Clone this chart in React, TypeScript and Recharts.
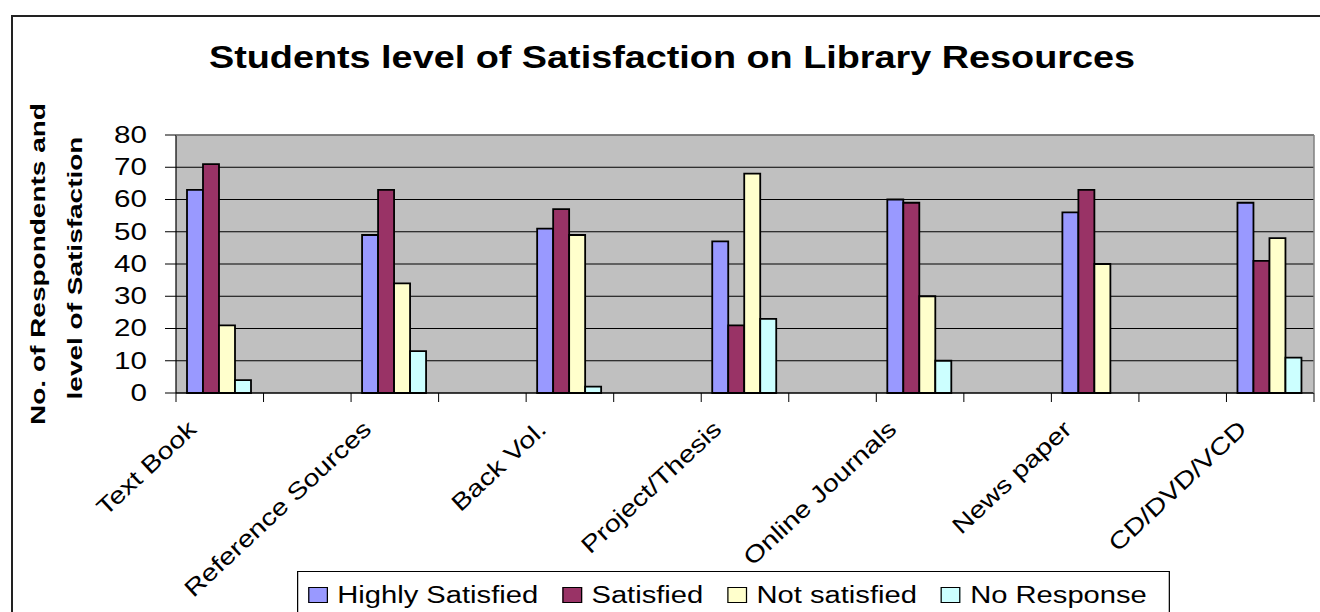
import React from 'react';
import { BarChart, Bar, XAxis, YAxis, CartesianGrid } from 'recharts';

const categories = [
  'Text Book',
  'Reference Sources',
  'Back Vol.',
  'Project/Thesis',
  'Online Journals',
  'News paper',
  'CD/DVD/VCD',
];
const highlySatisfied = [63, 49, 51, 47, 60, 56, 59];
const satisfied = [71, 63, 57, 21, 59, 63, 41];
const notSatisfied = [21, 34, 49, 68, 30, 40, 48];
const noResponse: (number | null)[] = [4, 13, 2, 23, 10, null, 11];
const yTicks = [0, 10, 20, 30, 40, 50, 60, 70, 80];

const series = [
  { key: 'hs', name: 'Highly Satisfied', color: '#9999FF' },
  { key: 's', name: 'Satisfied', color: '#993366' },
  { key: 'ns', name: 'Not satisfied', color: '#FFFFCC' },
  { key: 'nr', name: 'No Response', color: '#CCFFFF' },
];

// layout
const W = 1320;
const H = 612;
const PLOT_LEFT = 176;
const PLOT_TOP = 135;
const PLOT_RIGHT = 1314;
const PLOT_BOTTOM = 393;
const FONT = '"Liberation Sans", Arial, sans-serif';

// each category is followed by an empty slot, so labels sit on every other band
const data: any[] = [];
categories.forEach((name, i) => {
  data.push({
    name,
    hs: highlySatisfied[i],
    s: satisfied[i],
    ns: notSatisfied[i],
    nr: noResponse[i],
  });
  if (i < categories.length - 1) data.push({ name: `__gap${i}`, spacer: true });
});

const BAND = (PLOT_RIGHT - PLOT_LEFT) / data.length;

const XTick = (props: any) => {
  const { x, payload, index } = props;
  const half = BAND / 2;
  const isLast = index === data.length - 1;
  const label = categories.includes(payload.value) ? payload.value : null;
  const ax = x - 22;
  const ay = PLOT_BOTTOM + 38;
  return (
    <g>
      <line x1={x - half} x2={x - half} y1={PLOT_BOTTOM} y2={PLOT_BOTTOM + 9} stroke="#000" />
      {isLast && (
        <line x1={x + half} x2={x + half} y1={PLOT_BOTTOM} y2={PLOT_BOTTOM + 9} stroke="#000" />
      )}
      {label && (
        <text
          transform={`translate(${ax},${ay}) rotate(-43) scale(1.22,1)`}
          textAnchor="end"
          fontFamily={FONT}
          fontSize={23.5}
          fill="#000"
        >
          {label}
        </text>
      )}
    </g>
  );
};

const YTick = (props: any) => {
  const { x, y, payload } = props;
  return (
    <text
      transform={`translate(${x},${y}) scale(1.26,1)`}
      textAnchor="end"
      dominantBaseline="central"
      fontFamily={FONT}
      fontSize={23.5}
      fill="#000"
    >
      {payload.value}
    </text>
  );
};

const Legend = () => (
  <div
    style={{
      position: 'absolute',
      left: 297,
      top: 571,
      width: 704,
      height: 100,
      border: '1px solid #000',
      background: '#fff',
      transform: 'scaleX(1.24)',
      transformOrigin: 'left top',
      display: 'flex',
      alignItems: 'flex-start',
      paddingLeft: 8,
      paddingTop: 9,
      boxSizing: 'border-box',
      fontFamily: FONT,
      fontSize: 23.5,
      lineHeight: '28px',
      whiteSpace: 'nowrap',
    }}
  >
    {series.map(s => (
      <div key={s.key} style={{ display: 'flex', alignItems: 'center', marginRight: 19.5 }}>
        <span
          style={{
            width: 14,
            height: 14,
            border: '1px solid #000',
            background: s.color,
            marginRight: 7.5,
            display: 'inline-block',
          }}
        />
        <span>{s.name}</span>
      </div>
    ))}
  </div>
);

export default function App() {
  return (
    <div
      style={{
        position: 'absolute',
        left: 0,
        top: 0,
        width: W,
        height: H,
        overflow: 'hidden',
        background: '#fff',
        fontFamily: FONT,
      }}
    >
      {/* chart frame, runs off the right and bottom edges */}
      <div
        style={{
          position: 'absolute',
          left: 11,
          top: 15,
          width: 2000,
          height: 2000,
          border: '2px solid #222',
        }}
      />

      <div style={{ position: 'absolute', left: 0, top: 0 }}>
        <BarChart
          width={W}
          height={H}
          data={data}
          margin={{ top: PLOT_TOP, right: W - PLOT_RIGHT, bottom: 0, left: 0 }}
          barCategoryGap={11}
          barGap={0}
        >
          <CartesianGrid vertical={false} fill="#C0C0C0" fillOpacity={1} stroke="#000" strokeOpacity={1} />
          <XAxis
            dataKey="name"
            type="category"
            interval={0}
            height={H - PLOT_BOTTOM}
            tickLine={false}
            axisLine={{ stroke: '#000', strokeWidth: 1.2 }}
            tick={<XTick />}
          />
          <YAxis
            width={PLOT_LEFT}
            domain={[0, 80]}
            ticks={yTicks}
            interval={0}
            tickSize={11}
            tickMargin={18}
            tickLine={{ stroke: '#000' }}
            axisLine={{ stroke: '#000', strokeWidth: 1.2 }}
            tick={<YTick />}
          />
          {series.map(s => (
            <Bar
              key={s.key}
              dataKey={s.key}
              name={s.name}
              fill={s.color}
              stroke="#000"
              strokeWidth={1.8}
              isAnimationActive={false}
            />
          ))}
        </BarChart>
      </div>

      <svg
        width={W}
        height={H}
        style={{ position: 'absolute', left: 0, top: 0, pointerEvents: 'none' }}
      >
        {/* plot area border (top and right) */}
        <line x1={PLOT_LEFT} x2={PLOT_RIGHT} y1={PLOT_TOP} y2={PLOT_TOP} stroke="#808080" strokeWidth={1.5} />
        <line x1={PLOT_RIGHT} x2={PLOT_RIGHT} y1={PLOT_TOP} y2={PLOT_BOTTOM} stroke="#808080" strokeWidth={1.5} />

        <text
          transform="translate(672,68) scale(1.2,1)"
          textAnchor="middle"
          fontFamily={FONT}
          fontWeight="bold"
          fontSize={31.5}
          fill="#000"
        >
          Students level of Satisfaction on Library Resources
        </text>

        <text
          transform="translate(45,264) rotate(-90) scale(1.4,1)"
          textAnchor="middle"
          fontFamily={FONT}
          fontWeight="bold"
          fontSize={20}
          fill="#000"
        >
          No. of Respondents and
        </text>
        <text
          transform="translate(82,268) rotate(-90) scale(1.4,1)"
          textAnchor="middle"
          fontFamily={FONT}
          fontWeight="bold"
          fontSize={20}
          fill="#000"
        >
          level of Satisfaction
        </text>
      </svg>

      <Legend />
    </div>
  );
}
